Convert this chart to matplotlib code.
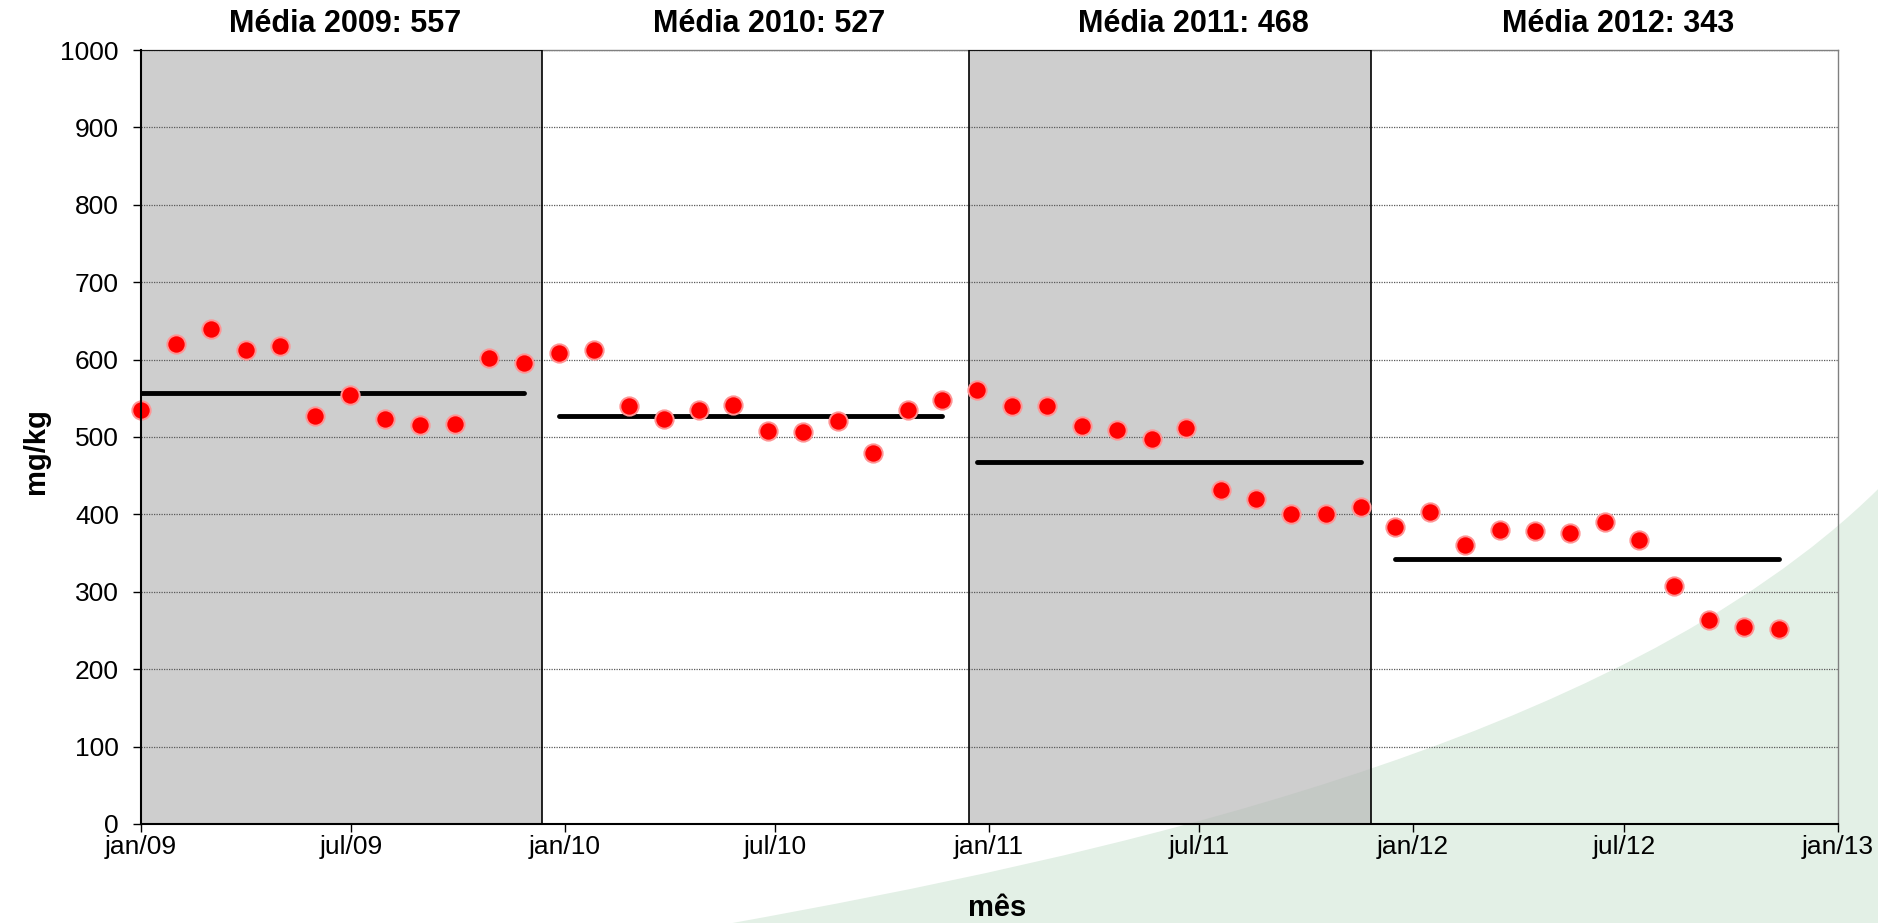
import matplotlib
matplotlib.use('Agg')
import matplotlib.pyplot as plt
import matplotlib.dates as mdates
from matplotlib.path import Path
from matplotlib.patches import PathPatch
from matplotlib.transforms import blended_transform_factory
import datetime as dt

plt.rcParams['font.family'] = ['Liberation Sans', 'DejaVu Sans']

# ---------------- data ----------------
dates_2009 = ['2009-01-01', '2009-01-31', '2009-03-02', '2009-04-01', '2009-05-01', '2009-05-31',
              '2009-06-30', '2009-07-30', '2009-08-29', '2009-09-28', '2009-10-28', '2009-11-27']
vals_2009 = [535, 620, 640, 613, 617, 527, 554, 523, 515, 517, 602, 596]

dates_2010 = ['2009-12-27', '2010-01-26', '2010-02-25', '2010-03-27', '2010-04-26', '2010-05-26',
              '2010-06-25', '2010-07-25', '2010-08-24', '2010-09-23', '2010-10-23', '2010-11-22']
vals_2010 = [609, 613, 540, 523, 535, 541, 508, 507, 521, 479, 535, 548]

dates_2011 = ['2010-12-22', '2011-01-21', '2011-02-20', '2011-03-22', '2011-04-21', '2011-05-21',
              '2011-06-20', '2011-07-20', '2011-08-19', '2011-09-18', '2011-10-18', '2011-11-17']
vals_2011 = [561, 540, 540, 514, 509, 497, 511, 431, 420, 401, 401, 409]

dates_2012 = ['2011-12-17', '2012-01-16', '2012-02-15', '2012-03-16', '2012-04-15', '2012-05-15',
              '2012-06-14', '2012-07-14', '2012-08-13', '2012-09-12', '2012-10-12', '2012-11-11']
vals_2012 = [384, 403, 361, 380, 379, 376, 390, 367, 307, 263, 255, 252]

years = [2009, 2010, 2011, 2012]
year_means = [557, 527, 468, 343]

shade_starts = ['2009-01-01', '2010-12-15']
shade_ends = ['2009-12-12', '2011-11-26']

tick_dates = ['2009-01-01', '2009-07-01', '2010-01-01', '2010-07-01', '2011-01-01',
              '2011-07-01', '2012-01-01', '2012-07-01', '2013-01-01']
tick_labels = ['jan/09', 'jul/09', 'jan/10', 'jul/10', 'jan/11',
               'jul/11', 'jan/12', 'jul/12', 'jan/13']
y_ticks = [0, 100, 200, 300, 400, 500, 600, 700, 800, 900, 1000]

series_dates = [dates_2009, dates_2010, dates_2011, dates_2012]
series_vals = [vals_2009, vals_2010, vals_2011, vals_2012]


def d(s):
    return mdates.date2num(dt.datetime.strptime(s, '%Y-%m-%d'))


# ---------------- figure ----------------
fig = plt.figure(figsize=(18.78, 9.23), dpi=100)
fig.patch.set_facecolor('white')

# decorative green swoosh in the background
verts = [(0.39, 0.0), (0.58, 0.07), (0.86, 0.19), (1.0, 0.47), (1.0, 0.0), (0.39, 0.0)]
codes = [Path.MOVETO, Path.CURVE4, Path.CURVE4, Path.CURVE4, Path.LINETO, Path.CLOSEPOLY]
swoosh = PathPatch(Path(verts, codes), transform=fig.transFigure,
                   facecolor='#e3f0e6', edgecolor='none', zorder=-5)
fig.patches.append(swoosh)

ax = fig.add_axes([0.0751, 0.1073, 0.9036, 0.8385])
ax.set_facecolor('none')

ax.set_xlim(d(tick_dates[0]), d(tick_dates[-1]))
ax.set_ylim(0, 1000)

# shaded years
for s, e in zip(shade_starts, shade_ends):
    ax.axvspan(d(s), d(e), facecolor='#b4b4b4', alpha=0.65, edgecolor='none', zorder=1)
    ax.axvspan(d(s), d(e), fill=False, edgecolor='black', lw=1.2, zorder=2.6)

# grid
ax.set_yticks(y_ticks)
ax.set_axisbelow('line')
ax.yaxis.grid(True, color='#5a5a5a', linestyle=(0, (1, 1)), lw=0.9)

# mean lines and points
for ds, vs, m in zip(series_dates, series_vals, year_means):
    ax.plot([d(ds[0]), d(ds[-1])], [m, m], color='black', lw=3.5,
            solid_capstyle='round', zorder=3)
    ax.plot([d(x) for x in ds], vs, linestyle='none', marker='o', markersize=13.2,
            markerfacecolor='#ff0000', markeredgecolor='#ff9494', markeredgewidth=1.4,
            zorder=4, clip_on=False)

# titles per year
trans = blended_transform_factory(ax.transData, ax.transAxes)
for y, m in zip(years, year_means):
    xc = (d(f'{y}-01-01') + d(f'{y}-12-31')) / 2 - 6
    ax.text(xc, 1.034, f'Média {y}: {m}', transform=trans, ha='center', va='center',
            fontsize=22, fontweight='bold')

# axes styling
ax.set_xticks([d(t) for t in tick_dates])
ax.set_xticklabels(tick_labels)
ax.tick_params(axis='x', direction='out', length=6, width=1, labelsize=19, pad=2)
ax.tick_params(axis='y', direction='out', length=6, width=1, labelsize=19, pad=10)
for side in ['left', 'bottom']:
    ax.spines[side].set_color('black')
    ax.spines[side].set_linewidth(1.5)
for side in ['top', 'right']:
    ax.spines[side].set_color('#808080')
    ax.spines[side].set_linewidth(1.0)
ax.spines['bottom'].set_zorder(5)
ax.spines['left'].set_zorder(5)

fig.text(0.531, 0.016, 'mês', ha='center', va='center', fontsize=21, fontweight='bold')
fig.text(0.019, 0.511, 'mg/kg', ha='center', va='center', rotation=90,
         fontsize=21, fontweight='bold')

fig.savefig('out.png', dpi=100)
